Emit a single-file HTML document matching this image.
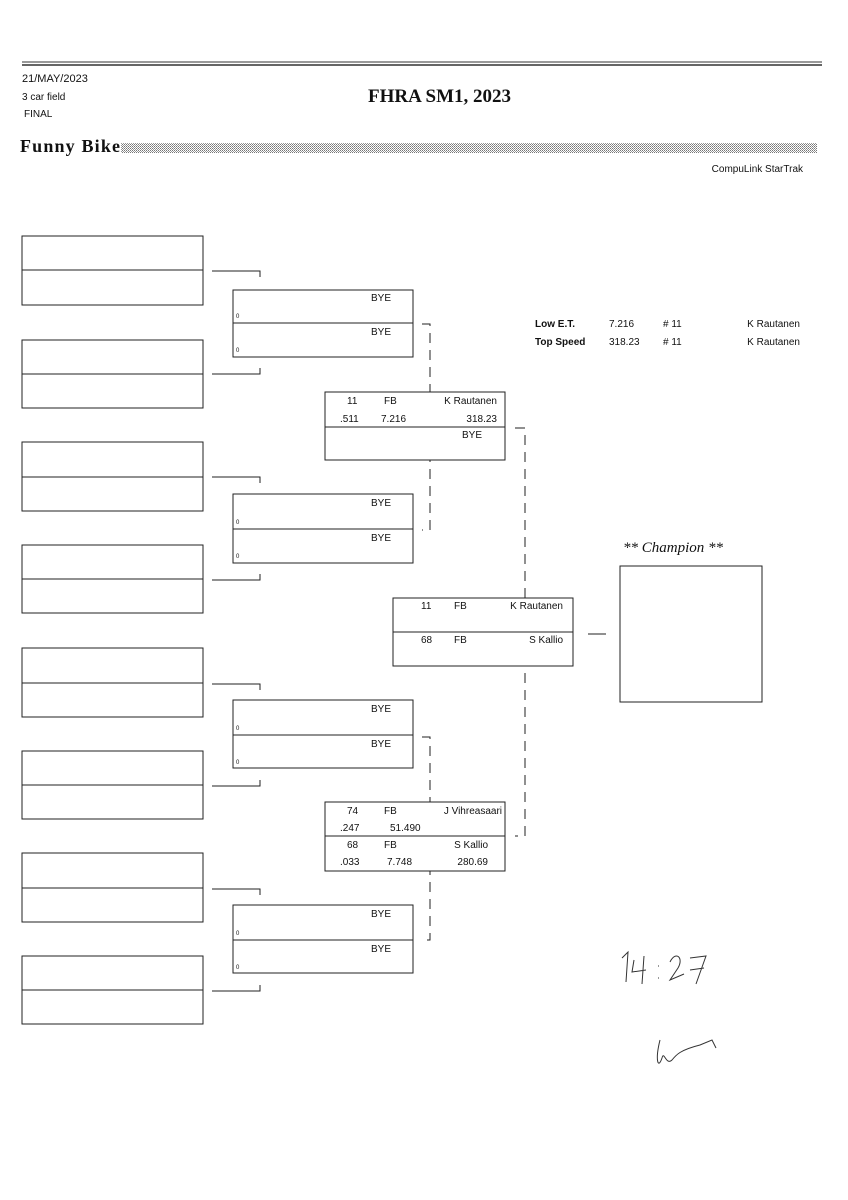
<!DOCTYPE html>
<html><head><meta charset="utf-8"><style>
html,body{margin:0;padding:0;background:#fff}
svg{display:block}
text{font-family:"Liberation Sans",sans-serif;fill:#111}
.m{font-family:"DejaVu Sans","Liberation Sans",sans-serif;font-size:10px;font-stretch:condensed}
.s{font-size:6px}
</style></head><body>
<svg width="848" height="1200" viewBox="0 0 848 1200" xmlns="http://www.w3.org/2000/svg">
<defs><pattern id="dots" width="2" height="2" patternUnits="userSpaceOnUse"><rect width="1" height="1" fill="#777"/><rect x="1" y="1" width="1" height="1" fill="#999"/></pattern></defs>
<line x1="22" y1="62" x2="822" y2="62" stroke="#333" stroke-width="1"/>
<line x1="22" y1="65" x2="822" y2="65" stroke="#333" stroke-width="1.5"/>
<text x="22" y="82" font-size="11">21/MAY/2023</text>
<text x="22" y="100" font-size="10">3 car field</text>
<text x="24" y="117" font-size="10">FINAL</text>
<text x="368" y="102" font-size="19" font-weight="bold" style="font-family:'Liberation Serif',serif">FHRA SM1, 2023</text>
<text x="20" y="152" font-size="18" font-weight="bold" style="font-family:'Liberation Serif',serif" textLength="100">Funny Bike</text>
<rect x="121" y="143" width="696" height="10" fill="url(#dots)"/>
<text x="803" y="172" font-size="10" text-anchor="end">CompuLink StarTrak</text>

<g fill="none" stroke="#222" stroke-width="1">
<rect x="22" y="236" width="181" height="69"/><line x1="22" y1="270" x2="203" y2="270"/>
<rect x="22" y="340" width="181" height="68"/><line x1="22" y1="374" x2="203" y2="374"/>
<rect x="22" y="442" width="181" height="69"/><line x1="22" y1="477" x2="203" y2="477"/>
<rect x="22" y="545" width="181" height="68"/><line x1="22" y1="579" x2="203" y2="579"/>
<rect x="22" y="648" width="181" height="69"/><line x1="22" y1="683" x2="203" y2="683"/>
<rect x="22" y="751" width="181" height="68"/><line x1="22" y1="785" x2="203" y2="785"/>
<rect x="22" y="853" width="181" height="69"/><line x1="22" y1="888" x2="203" y2="888"/>
<rect x="22" y="956" width="181" height="68"/><line x1="22" y1="990" x2="203" y2="990"/>
<path d="M212 271H260V277M212 374H260V368"/>
<path d="M212 477H260V483M212 580H260V574"/>
<path d="M212 684H260V690M212 786H260V780"/>
<path d="M212 889H260V895M212 991H260V985"/>
</g>
<g fill="none" stroke="#222" stroke-width="1" stroke-dasharray="10,7">
<path d="M422 324H430V530H422"/>
<path d="M422 737H430V940H422"/>
<path d="M515 428H525V836H515"/>
</g>
<g fill="#fff" stroke="#222" stroke-width="1">
<rect x="233" y="290" width="180" height="67"/>
<rect x="233" y="494" width="180" height="69"/>
<rect x="233" y="700" width="180" height="68"/>
<rect x="233" y="905" width="180" height="68"/>
<rect x="325" y="392" width="180" height="68"/>
<rect x="325" y="802" width="180" height="69"/>
<rect x="393" y="598" width="180" height="68"/>
<rect x="620" y="566" width="142" height="136"/>
</g>
<g stroke="#222" stroke-width="1">
<line x1="233" y1="323" x2="413" y2="323"/>
<line x1="233" y1="529" x2="413" y2="529"/>
<line x1="233" y1="735" x2="413" y2="735"/>
<line x1="233" y1="940" x2="413" y2="940"/>
<line x1="325" y1="427" x2="505" y2="427"/>
<line x1="325" y1="836" x2="505" y2="836"/>
<line x1="393" y1="632" x2="573" y2="632"/>
<line x1="588" y1="634" x2="606" y2="634"/>
</g>
<g class="m">
<text x="371" y="301">BYE</text><text x="371" y="335">BYE</text>
<text x="371" y="506">BYE</text><text x="371" y="541">BYE</text>
<text x="371" y="712">BYE</text><text x="371" y="747">BYE</text>
<text x="371" y="917">BYE</text><text x="371" y="952">BYE</text>
<text x="236" y="318" class="s">0</text><text x="236" y="352" class="s">0</text>
<text x="236" y="524" class="s">0</text><text x="236" y="558" class="s">0</text>
<text x="236" y="730" class="s">0</text><text x="236" y="764" class="s">0</text>
<text x="236" y="935" class="s">0</text><text x="236" y="969" class="s">0</text>

<text x="347" y="404">11</text><text x="384" y="404">FB</text><text x="497" y="404" text-anchor="end">K Rautanen</text>
<text x="340" y="422">.511</text><text x="381" y="422">7.216</text><text x="497" y="422" text-anchor="end">318.23</text>
<text x="482" y="438" text-anchor="end">BYE</text>

<text x="347" y="814">74</text><text x="384" y="814">FB</text><text x="502" y="814" text-anchor="end">J Vihreasaari</text>
<text x="340" y="831">.247</text><text x="390" y="831">51.490</text>
<text x="347" y="848">68</text><text x="384" y="848">FB</text><text x="488" y="848" text-anchor="end">S Kallio</text>
<text x="340" y="865">.033</text><text x="387" y="865">7.748</text><text x="488" y="865" text-anchor="end">280.69</text>

<text x="421" y="609">11</text><text x="454" y="609">FB</text><text x="563" y="609" text-anchor="end">K Rautanen</text>
<text x="421" y="643">68</text><text x="454" y="643">FB</text><text x="563" y="643" text-anchor="end">S Kallio</text>

<text x="535" y="327" font-weight="bold" style="font-family:'Liberation Sans'">Low  E.T.</text>
<text x="609" y="327">7.216</text><text x="663" y="327"># 11</text><text x="800" y="327" text-anchor="end">K Rautanen</text>
<text x="535" y="345" font-weight="bold" style="font-family:'Liberation Sans'">Top Speed</text>
<text x="609" y="345">318.23</text><text x="663" y="345"># 11</text><text x="800" y="345" text-anchor="end">K Rautanen</text>
</g>
<text x="623" y="552" font-size="15" font-style="italic" style="font-family:'Liberation Serif',serif">** Champion **</text>
<g fill="none" stroke="#333" stroke-width="1">
<path d="M622 958 L628 952 L626 982"/>
<path d="M634 960 L632 972 L646 970 M644 956 L642 984"/>
<path d="M658 966 h1 M658 978 h1"/>
<path d="M670 962 C676 950 684 958 678 968 L670 980 L684 974"/>
<path d="M690 958 L706 956 L696 984 M690 970 L704 968"/>
<path d="M660 1040 C655 1060 658 1070 662 1058 C664 1050 666 1066 672 1060 C676 1055 680 1050 700 1045 L712 1040 L716 1048"/>
</g>
</svg>
</body></html>
